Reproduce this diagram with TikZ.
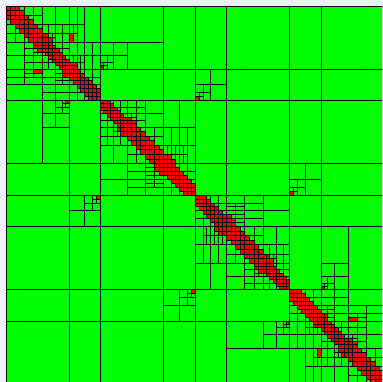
\documentclass[tikz,border=0pt]{standalone}
\definecolor{hgreen}{RGB}{0,255,0}
\definecolor{hred}{RGB}{255,0,0}
\definecolor{hbg}{RGB}{240,240,250}
\tikzset{admblk/.style={fill=hgreen,draw=black,line width=0.7pt},
 densblk/.style={fill=hred,draw=black,line width=0.7pt}}
\newif\ifHMflag
\def\HMeta{1}
\newcommand\HMtest[1]{\pgfmathparse{(#1)?1:0}\ifdim\pgfmathresult pt>0.5pt\relax\HMflagtrue\else\HMflagfalse\fi}
\newcommand\HMsplit[2]{%
  \pgfmathsetmacro\HMs{(#1+#2)/2}%
  \HMtest{abs(#2-#1-378)<1}\ifHMflag\def\HMs{195}\fi
  \HMtest{abs(#2-#1-189)<1}\ifHMflag\pgfmathsetmacro\HMs{#1<100?100.5:289.5}\fi
  \HMtest{abs(#2-#1-94.5)<1}\ifHMflag\pgfmathsetmacro\HMs{#1<50?69:(#1<150?163.5:(#1<250?226.5:321))}\fi
  \HMtest{abs(#1-6)<0.5 && abs(#2-69)<0.5}\ifHMflag\def\HMs{42}\fi
  \HMtest{abs(#1-321)<0.5 && abs(#2-384)<0.5}\ifHMflag\def\HMs{348}\fi
  \HMtest{abs(#1-100.5)<0.5 && abs(#2-163.5)<0.5}\ifHMflag\def\HMs{127}\fi
  \HMtest{abs(#1-226.5)<0.5 && abs(#2-289.5)<0.5}\ifHMflag\def\HMs{263}\fi
}
% block rows r0..r1, cols c0..c1 and its transpose
\newcommand\HMrect[5]{\path[#1] (#4,#2) rectangle (#5,#3); \path[#1] (#2,#4) rectangle (#3,#5);}
\newcommand\HMcorner[4]{\begingroup
  \HMtest{#2-#1<5 || #4-#3<5}%
  \ifHMflag \def\HMnext{\HMrect{densblk}{#1}{#2}{#3}{#4}}%
  \else
    \HMsplit{#1}{#2}\let\HMsr\HMs \HMsplit{#3}{#4}\let\HMsc\HMs
    \edef\HMnext{\noexpand\HMrect{admblk}{#1}{\HMsr}{#3}{\HMsc}%
      \noexpand\HMrect{admblk}{#1}{\HMsr}{\HMsc}{#4}%
      \noexpand\HMrect{admblk}{\HMsr}{#2}{\HMsc}{#4}%
      \noexpand\HMcorner{\HMsr}{#2}{#3}{\HMsc}}%
  \fi
  \HMnext\endgroup}
\newcommand\HMoff[4]{\begingroup
  \pgfmathsetmacro\HMlr{#2-#1}\pgfmathsetmacro\HMlc{#4-#3}\pgfmathsetmacro\HMd{#3-#2}%
  \HMtest{\HMlr<5 && \HMlc<5}%
  \ifHMflag
    \HMtest{max(\HMlr,\HMlc)<0.5*\HMd+0.01}%
    \ifHMflag \def\HMnext{\HMrect{admblk}{#1}{#2}{#3}{#4}}%
    \else \def\HMnext{\HMrect{densblk}{#1}{#2}{#3}{#4}}\fi
  \else
  \HMtest{max(\HMlr,\HMlc)<\HMeta*\HMd+0.01}%
  \ifHMflag
    \HMtest{(abs(#2-42)<0.5 && abs(#3-69)<0.5) || (abs(#2-321)<0.5 && abs(#3-348)<0.5)}%
    \ifHMflag \def\HMnext{\HMcorner{#1}{#2}{#3}{#4}}%
    \else \def\HMnext{\HMrect{admblk}{#1}{#2}{#3}{#4}}\fi
  \else
      \HMtest{\HMlr<5}%
      \ifHMflag
        \HMsplit{#3}{#4}%
        \edef\HMnext{\noexpand\HMoff{#1}{#2}{#3}{\HMs}\noexpand\HMoff{#1}{#2}{\HMs}{#4}}%
      \else
        \HMtest{\HMlc<5}%
        \ifHMflag
          \HMsplit{#1}{#2}%
          \edef\HMnext{\noexpand\HMoff{#1}{\HMs}{#3}{#4}\noexpand\HMoff{\HMs}{#2}{#3}{#4}}%
        \else
          \HMsplit{#1}{#2}\let\HMsr\HMs \HMsplit{#3}{#4}\let\HMsc\HMs
          \edef\HMnext{\noexpand\HMoff{#1}{\HMsr}{#3}{\HMsc}\noexpand\HMoff{#1}{\HMsr}{\HMsc}{#4}%
            \noexpand\HMoff{\HMsr}{#2}{#3}{\HMsc}\noexpand\HMoff{\HMsr}{#2}{\HMsc}{#4}}%
        \fi
      \fi
  \fi
  \fi
  \HMnext\endgroup}
\newcommand\HMdiag[2]{\begingroup
  \HMtest{#2-#1<5}%
  \ifHMflag \def\HMnext{\path[densblk] (#1,#1) rectangle (#2,#2);}%
  \else \HMsplit{#1}{#2}%
    \edef\HMnext{\noexpand\HMdiag{#1}{\HMs}\noexpand\HMdiag{\HMs}{#2}\noexpand\HMoff{#1}{\HMs}{\HMs}{#2}}%
  \fi
  \HMnext\endgroup}
\begin{document}
\begin{tikzpicture}[x=1pt,y=-1pt]
\fill[hbg] (0,0) rectangle (382,382);
\useasboundingbox (0,0) rectangle (382,382);
\clip (0,0) rectangle (382,382);
% far field (A,B)
\HMrect{admblk}{6}{69}{195}{226.5}
\HMrect{admblk}{6}{69}{226.5}{289.5}
\HMrect{admblk}{6}{69}{289.5}{321}
\HMrect{admblk}{6}{69}{321}{384}
\HMcorner{69}{100.5}{195}{226.5}
\HMrect{admblk}{69}{100.5}{226.5}{289.5}
\HMrect{admblk}{69}{100.5}{289.5}{321}
\HMrect{admblk}{69}{100.5}{321}{384}
\HMrect{admblk}{100.5}{163.5}{195}{226.5}
\HMrect{admblk}{100.5}{163.5}{226.5}{289.5}
\HMrect{admblk}{100.5}{163.5}{289.5}{321}
\HMrect{admblk}{100.5}{163.5}{321}{384}
\HMrect{admblk}{163.5}{195}{195}{226.5}
\HMrect{admblk}{163.5}{195}{226.5}{289.5}
\HMcorner{163.5}{195}{289.5}{321}
\HMrect{admblk}{163.5}{195}{321}{384}
% (A1,A2)
\HMrect{admblk}{6}{42}{100.5}{163.5}
\HMcorner{42}{69}{100.5}{127}
\HMrect{admblk}{42}{69}{127}{163.5}
\HMrect{admblk}{6}{69}{163.5}{195}
\HMrect{admblk}{69}{100.5}{100.5}{163.5}
\HMrect{admblk}{69}{100.5}{163.5}{195}
% (B1,B2)
\HMrect{admblk}{226.5}{289.5}{348}{384}
\HMcorner{263}{289.5}{321}{348}
\HMrect{admblk}{226.5}{263}{321}{348}
\HMrect{admblk}{195}{226.5}{321}{384}
\HMrect{admblk}{226.5}{289.5}{289.5}{321}
\HMrect{admblk}{195}{226.5}{289.5}{321}
% diagonal blocks
\HMdiag{6}{100.5}
\HMdiag{100.5}{195}
\HMdiag{195}{289.5}
\HMdiag{289.5}{384}
\draw[black,line width=0.7pt] (6,6) rectangle (384,384);
\end{tikzpicture}
\end{document}
